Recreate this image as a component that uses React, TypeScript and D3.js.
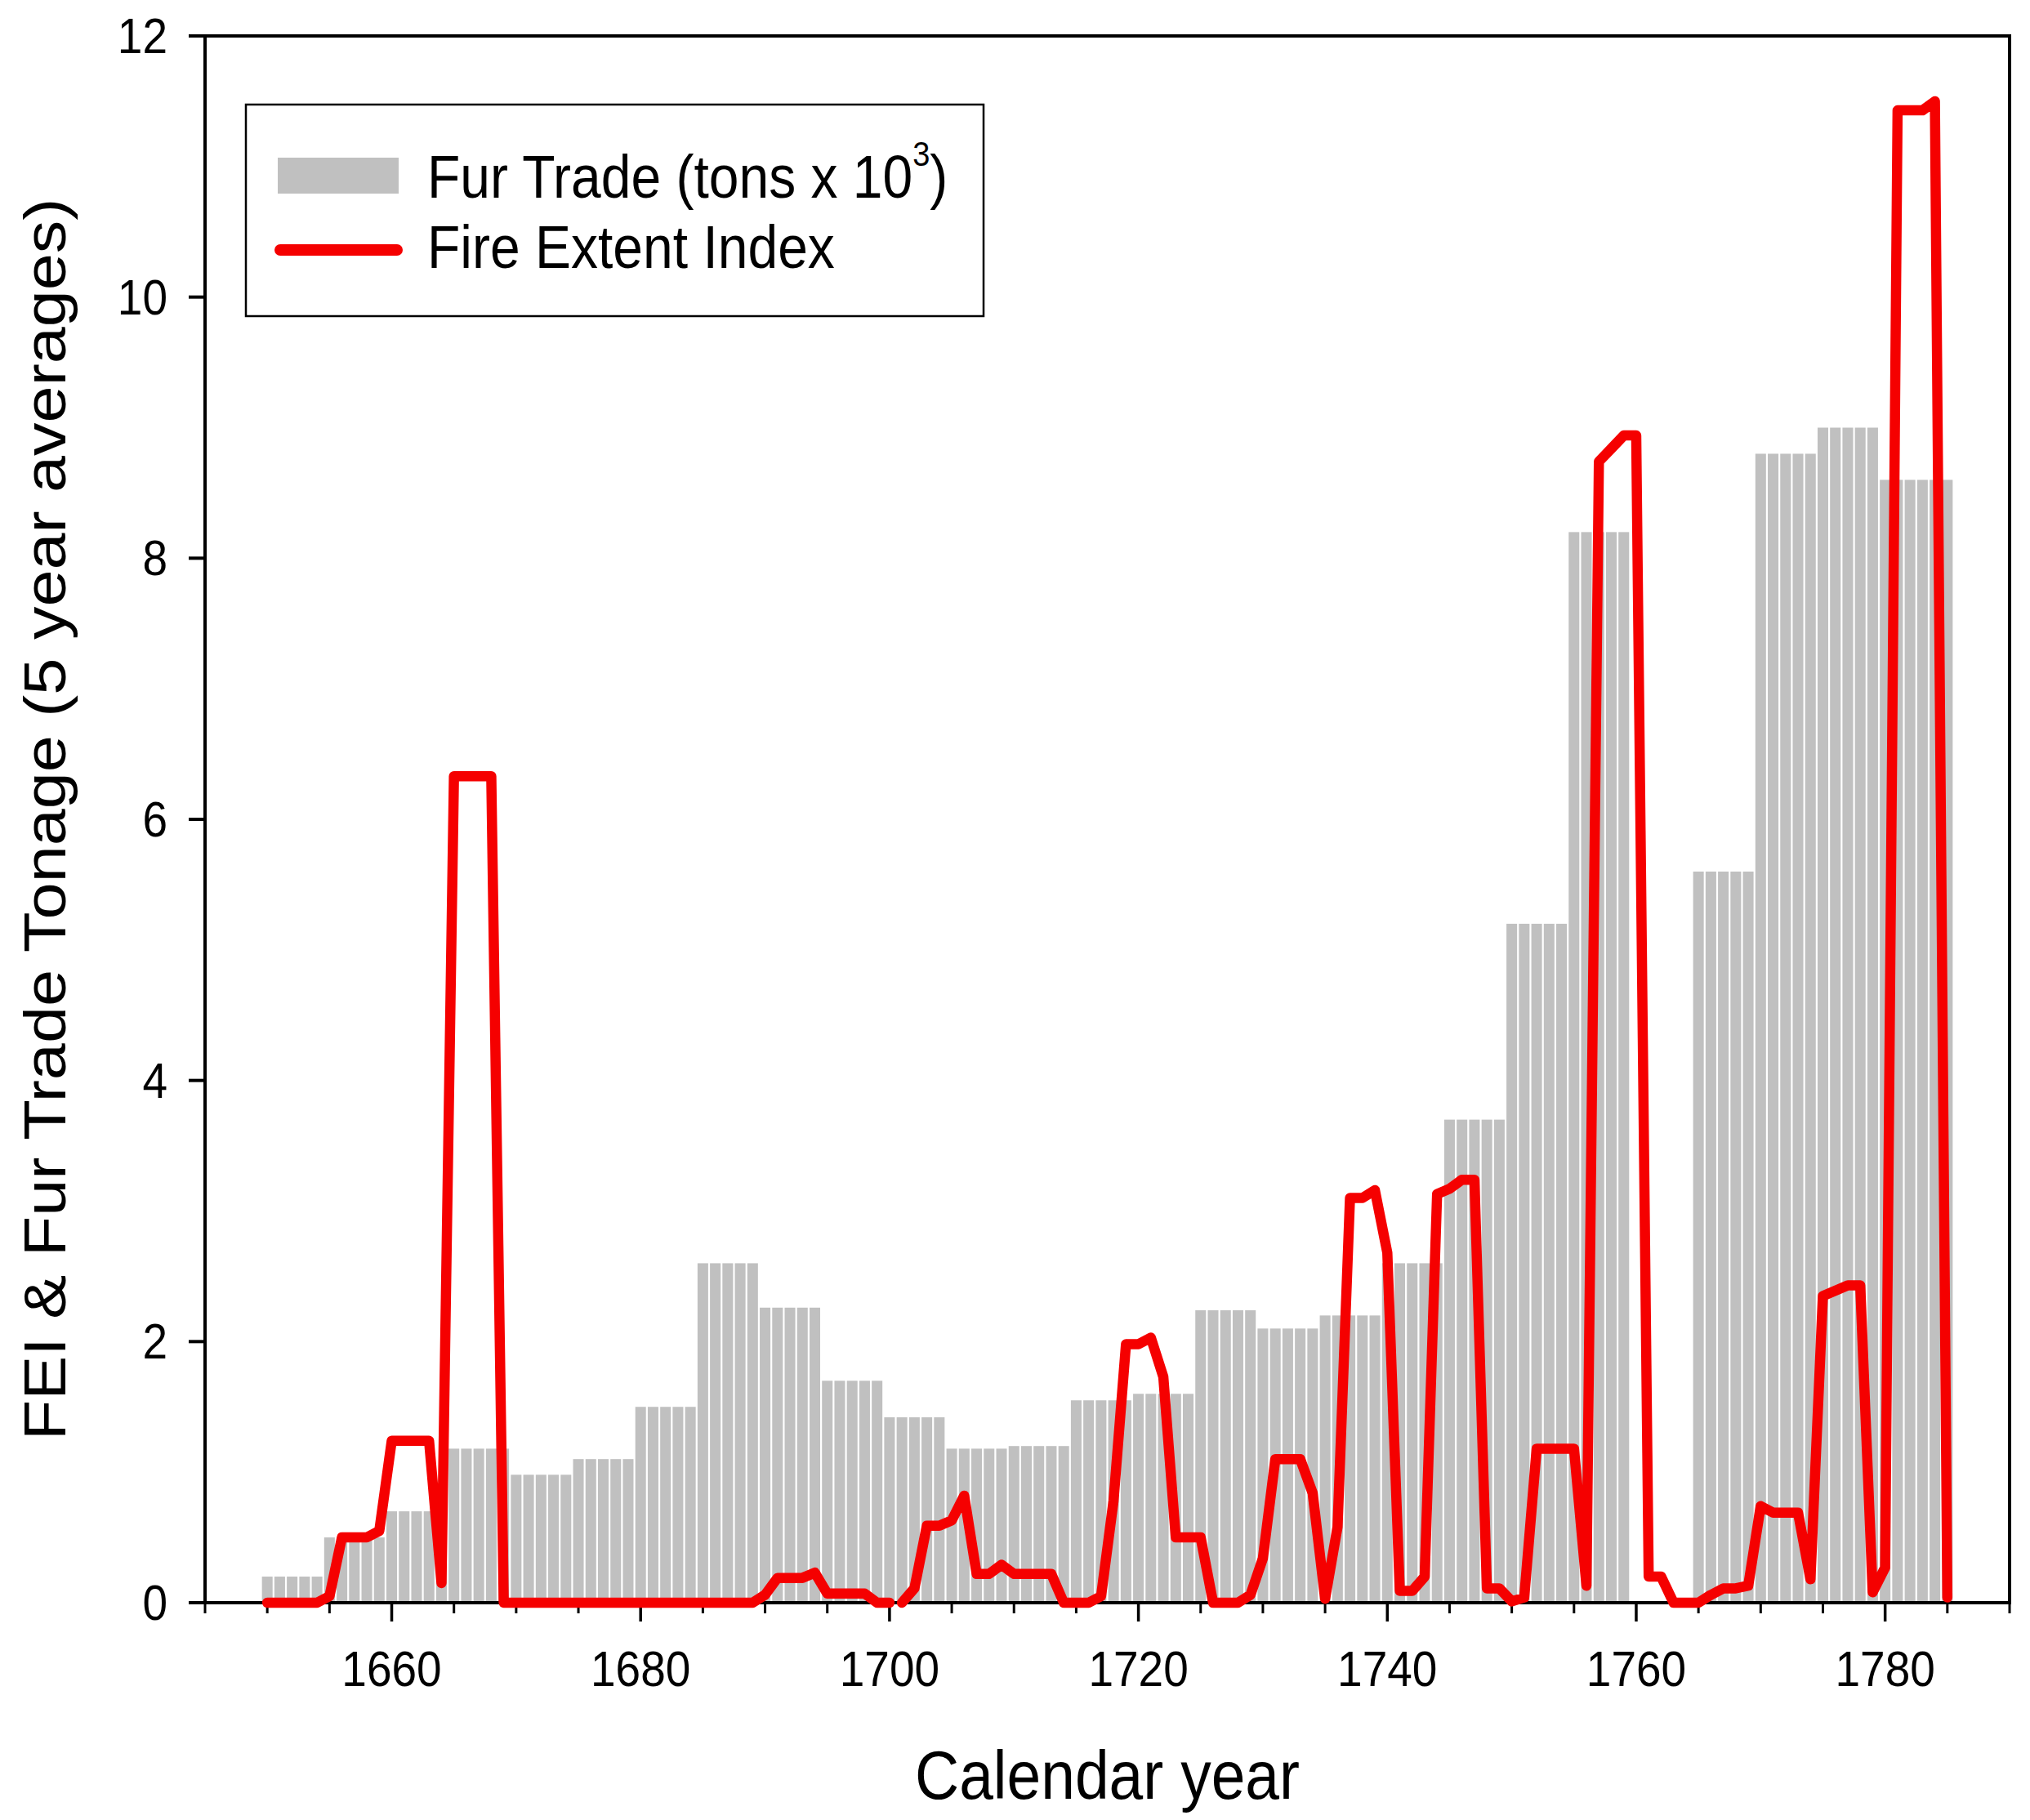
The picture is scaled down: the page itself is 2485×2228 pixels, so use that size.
import React, { useEffect, useRef } from 'react';
import * as d3 from 'd3';

const WIDTH = 2485;
const HEIGHT = 2228;

// Fur trade (tons x 10^3), 5-year blocks; each block gets one bar per year
const furBlockStarts = [
  1650, 1655, 1660, 1665, 1670, 1675, 1680, 1685, 1690, 1695, 1700, 1705, 1710, 1715,
  1720, 1725, 1730, 1735, 1740, 1745, 1750, 1755, 1760, 1765, 1770, 1775, 1780,
];
const furBlockValues: (number | null)[] = [
  0.2, 0.5, 0.7, 1.18, 0.98, 1.1, 1.5, 2.6, 2.26, 1.7, 1.42, 1.18, 1.2, 1.55,
  1.6, 2.24, 2.1, 2.2, 2.6, 3.7, 5.2, 8.2, null, 5.6, 8.8, 9.0, 8.6,
];
const furLastYear = 1785;

// Fire Extent Index, yearly from 1650 to 1785
const fireFirstYear = 1650;
const fireValues = [
  0, 0, 0, 0, 0, 0.05, 0.5, 0.5, 0.5, 0.55, // 1650s
  1.24, 1.24, 1.24, 1.24, 0.15, 6.33, 6.33, 6.33, 6.33, 0, // 1660s
  0, 0, 0, 0, 0, 0, 0, 0, 0, 0, // 1670s
  0, 0, 0, 0, 0, 0, 0, 0, 0, 0, // 1680s
  0.06, 0.19, 0.19, 0.19, 0.23, 0.07, 0.07, 0.07, 0.07, 0, // 1690s
  0, 0, 0.11, 0.59, 0.59, 0.63, 0.82, 0.22, 0.22, 0.29, // 1700s
  0.22, 0.22, 0.22, 0.22, 0, 0, 0, 0.05, 0.78, 1.98, // 1710s
  1.98, 2.03, 1.73, 0.5, 0.5, 0.5, 0, 0, 0, 0.06, // 1720s
  0.34, 1.1, 1.1, 1.1, 0.84, 0.03, 0.58, 3.1, 3.1, 3.16, // 1730s
  2.68, 0.09, 0.09, 0.2, 3.13, 3.17, 3.24, 3.24, 0.11, 0.11, // 1740s
  0.01, 0.04, 1.18, 1.18, 1.18, 1.18, 0.13, 8.74, 8.84, 8.94, // 1750s
  8.94, 0.2, 0.2, 0, 0, 0, 0.06, 0.11, 0.11, 0.13, // 1760s
  0.74, 0.69, 0.69, 0.69, 0.18, 2.35, 2.39, 2.43, 2.43, 0.08, // 1770s
  0.27, 11.43, 11.43, 11.43, 11.5, 0.04, // 1780s
];
// the line is broken between these two years
const fireGapAfter = 1700;

const yTicks = [0, 2, 4, 6, 8, 10, 12];
const xMajorTicks = [1660, 1680, 1700, 1720, 1740, 1760, 1780];
const xMinorTicks = [
  1645, 1650, 1655, 1665, 1670, 1675, 1685, 1690, 1695, 1705, 1710, 1715, 1725, 1730,
  1735, 1745, 1750, 1755, 1765, 1770, 1775, 1785, 1790,
];

const FONT = '"Liberation Sans", Arial, sans-serif';
const STRETCH = 1.11; // original figure is stretched vertically
const BAR_COLOR = '#c0c0c0';
const LINE_COLOR = '#f50000';

const FurFireChart: React.FC = () => {
  const svgRef = useRef<SVGSVGElement>(null);

  useEffect(() => {
    if (!svgRef.current) return;
    const svg = d3.select(svgRef.current);
    svg.selectAll('*').remove();

    const left = 251;
    const right = 2460;
    const top = 44;
    const bottom = 1962;

    const x = d3.scaleLinear().domain([1645, 1790]).range([left, right]);
    const y = d3.scaleLinear().domain([0, 12]).range([bottom, top]);

    const addText = (
      tx: number,
      ty: number,
      str: string,
      size: number,
      anchor: string,
      rotate = 0,
    ) => {
      const g = svg
        .append('g')
        .attr('transform', `translate(${tx},${ty}) scale(1,${STRETCH})${rotate ? ` rotate(${rotate})` : ''}`);
      return g
        .append('text')
        .attr('text-anchor', anchor)
        .attr('font-family', FONT)
        .attr('font-size', size)
        .attr('fill', '#000')
        .text(str);
    };

    // Bars: one per year inside each 5-year block
    const bars: { year: number; value: number }[] = [];
    furBlockStarts.forEach((start, i) => {
      const v = furBlockValues[i];
      if (v == null) return;
      const end = i === furBlockStarts.length - 1 ? furLastYear : furBlockStarts[i + 1] - 1;
      for (let yr = start; yr <= end; yr++) bars.push({ year: yr, value: v });
    });
    const barW = x(1) - x(0) - 2.2;

    svg
      .append('g')
      .selectAll('rect')
      .data(bars)
      .enter()
      .append('rect')
      .attr('x', d => x(d.year) - barW / 2)
      .attr('y', d => y(d.value))
      .attr('width', barW)
      .attr('height', d => y(0) - y(d.value))
      .attr('fill', BAR_COLOR);

    // Frame
    svg
      .append('rect')
      .attr('x', left)
      .attr('y', top)
      .attr('width', right - left)
      .attr('height', bottom - top)
      .attr('fill', 'none')
      .attr('stroke', '#000')
      .attr('stroke-width', 4);

    // Y ticks + labels
    yTicks.forEach(t => {
      svg
        .append('line')
        .attr('x1', left - 20)
        .attr('x2', left)
        .attr('y1', y(t))
        .attr('y2', y(t))
        .attr('stroke', '#000')
        .attr('stroke-width', 4);
      addText(205, y(t) + 21, String(t), 55, 'end');
    });

    // X ticks + labels
    xMinorTicks.forEach(t => {
      svg
        .append('line')
        .attr('x1', x(t))
        .attr('x2', x(t))
        .attr('y1', bottom)
        .attr('y2', bottom + 13)
        .attr('stroke', '#000')
        .attr('stroke-width', 3);
    });
    xMajorTicks.forEach(t => {
      svg
        .append('line')
        .attr('x1', x(t))
        .attr('x2', x(t))
        .attr('y1', bottom)
        .attr('y2', bottom + 23)
        .attr('stroke', '#000')
        .attr('stroke-width', 3.5);
      addText(x(t), 2064, String(t), 55, 'middle');
    });

    // Fire line
    const firePts: [number, number][] = fireValues.map((v, i) => [fireFirstYear + i, v]);
    const line = d3
      .line<[number, number]>()
      .x(d => x(d[0]))
      .y(d => y(d[1]));
    [firePts.filter(d => d[0] <= fireGapAfter), firePts.filter(d => d[0] > fireGapAfter)].forEach(seg => {
      svg
        .append('path')
        .attr('d', line(seg) || '')
        .attr('fill', 'none')
        .attr('stroke', LINE_COLOR)
        .attr('stroke-width', 12.5)
        .attr('stroke-linejoin', 'round')
        .attr('stroke-linecap', 'round');
    });

    // Axis titles
    addText((left + right) / 2, 2202, 'Calendar year', 75, 'middle');
    addText(80, (top + bottom) / 2, 'FEI & Fur Trade Tonage (5 year averages)', 73, 'middle', -90);

    // Legend
    svg
      .append('rect')
      .attr('x', 301)
      .attr('y', 128)
      .attr('width', 903)
      .attr('height', 259)
      .attr('fill', '#fff')
      .attr('stroke', '#000')
      .attr('stroke-width', 2.5);
    svg
      .append('rect')
      .attr('x', 340)
      .attr('y', 193)
      .attr('width', 148)
      .attr('height', 44)
      .attr('fill', BAR_COLOR);
    svg
      .append('line')
      .attr('x1', 343)
      .attr('x2', 486)
      .attr('y1', 306)
      .attr('y2', 306)
      .attr('stroke', LINE_COLOR)
      .attr('stroke-width', 14)
      .attr('stroke-linecap', 'round');

    const furLabel = addText(523, 242, '', 66, 'start');
    furLabel.append('tspan').text('Fur Trade (tons x 10');
    furLabel.append('tspan').attr('font-size', 38).attr('dy', -35).text('3');
    furLabel.append('tspan').attr('dy', 35).text(')');
    addText(523, 328, 'Fire Extent Index', 66, 'start');
  }, []);

  return (
    <div style={{ position: 'absolute', left: 0, top: 0, background: '#fff' }}>
      <svg ref={svgRef} width={WIDTH} height={HEIGHT} style={{ display: 'block' }} />
    </div>
  );
};

export default function App() {
  return <FurFireChart />;
}
